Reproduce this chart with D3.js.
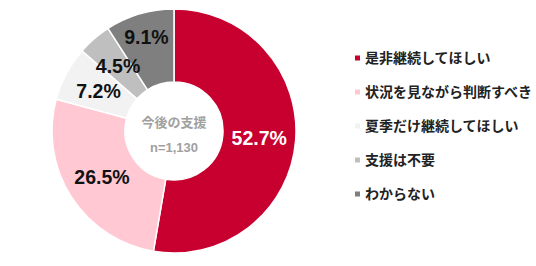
<!DOCTYPE html>
<html>
<head>
    <meta charset="utf-8">
    <style>
        body { margin: 0; background: #fff; }
        text { font-family: "Liberation Sans", "Noto Sans CJK JP", sans-serif; font-weight: bold; }
        .slice-label { font-size: 19.5px; }
        .center-label { fill: #a0a0a0; }
        .legend text { font-size: 14px; fill: #222; font-family: "Noto Sans CJK JP", sans-serif; }
    </style>
</head>
<body>
<div id="chart"></div>
<script src="https://cdn.jsdelivr.net/npm/d3@7"></script>
<script>

    var categories = ["是非継続してほしい", "状況を見ながら判断すべき", "夏季だけ継続してほしい", "支援は不要", "わからない"];
    var values = [52.7, 26.5, 7.2, 4.5, 9.1];
    var colors = ["#C8002F", "#FFC8D3", "#F2F2F2", "#BFBFBF", "#7F7F7F"];
    var labelColors = ["#fff", "#111", "#111", "#111", "#111"];
    var centerTitle = "今後の支援";
    var centerSub = "n=1,130";

    var width = 536, height = 266;
    var cx = 174, cy = 131;
    var outerR = 122, innerR = 49;

    var svg = d3.select("#chart").append("svg")
        .attr("width", width)
        .attr("height", height);

    var data = categories.map(function (c, i) {
        return {name: c, value: values[i], color: colors[i], labelColor: labelColors[i]};
    });

    var pie = d3.pie().sort(null).value(function (d) { return d.value; });
    var arc = d3.arc().innerRadius(innerR).outerRadius(outerR);
    // the small last slice puts its label further out
    var labelArc = function (d, i) {
        var r = i === 4 ? 98 : (innerR + outerR) / 2;
        return d3.arc().innerRadius(r).outerRadius(r).centroid(d);
    };

    var g = svg.append("g").attr("transform", "translate(" + cx + "," + cy + ")");
    var arcs = pie(data);

    g.selectAll("path.slice").data(arcs).enter().append("path")
        .attr("class", "slice")
        .attr("d", arc)
        .attr("fill", function (d) { return d.data.color; })
        .attr("stroke", "#fff")
        .attr("stroke-width", 1.5);

    g.selectAll("text.slice-label").data(arcs).enter().append("text")
        .attr("class", "slice-label")
        .attr("transform", function (d, i) { return "translate(" + labelArc(d, i) + ")"; })
        .attr("text-anchor", "middle")
        .attr("dy", "0.36em")
        .attr("fill", function (d) { return d.data.labelColor; })
        .text(function (d) { return d.data.value.toFixed(1) + "%"; });

    g.append("text").attr("class", "center-label")
        .attr("text-anchor", "middle").attr("y", -4)
        .style("font-size", "13px")
        .style("font-family", "'Noto Sans CJK JP', sans-serif")
        .text(centerTitle);
    g.append("text").attr("class", "center-label")
        .attr("text-anchor", "middle").attr("y", 21)
        .style("font-size", "13px")
        .text(centerSub);

    var legend = svg.append("g").attr("class", "legend");
    var ly = d3.scalePoint().domain(categories).range([58, 194]);

    var items = legend.selectAll("g").data(data).enter().append("g")
        .attr("transform", function (d) { return "translate(355," + ly(d.name) + ")"; });
    items.append("rect")
        .attr("x", 0).attr("y", -2.5)
        .attr("width", 5).attr("height", 5)
        .attr("fill", function (d) { return d.color; });
    items.append("text")
        .attr("x", 10).attr("dy", "0.36em")
        .text(function (d) { return d.name; });

</script>
</body>
</html>
